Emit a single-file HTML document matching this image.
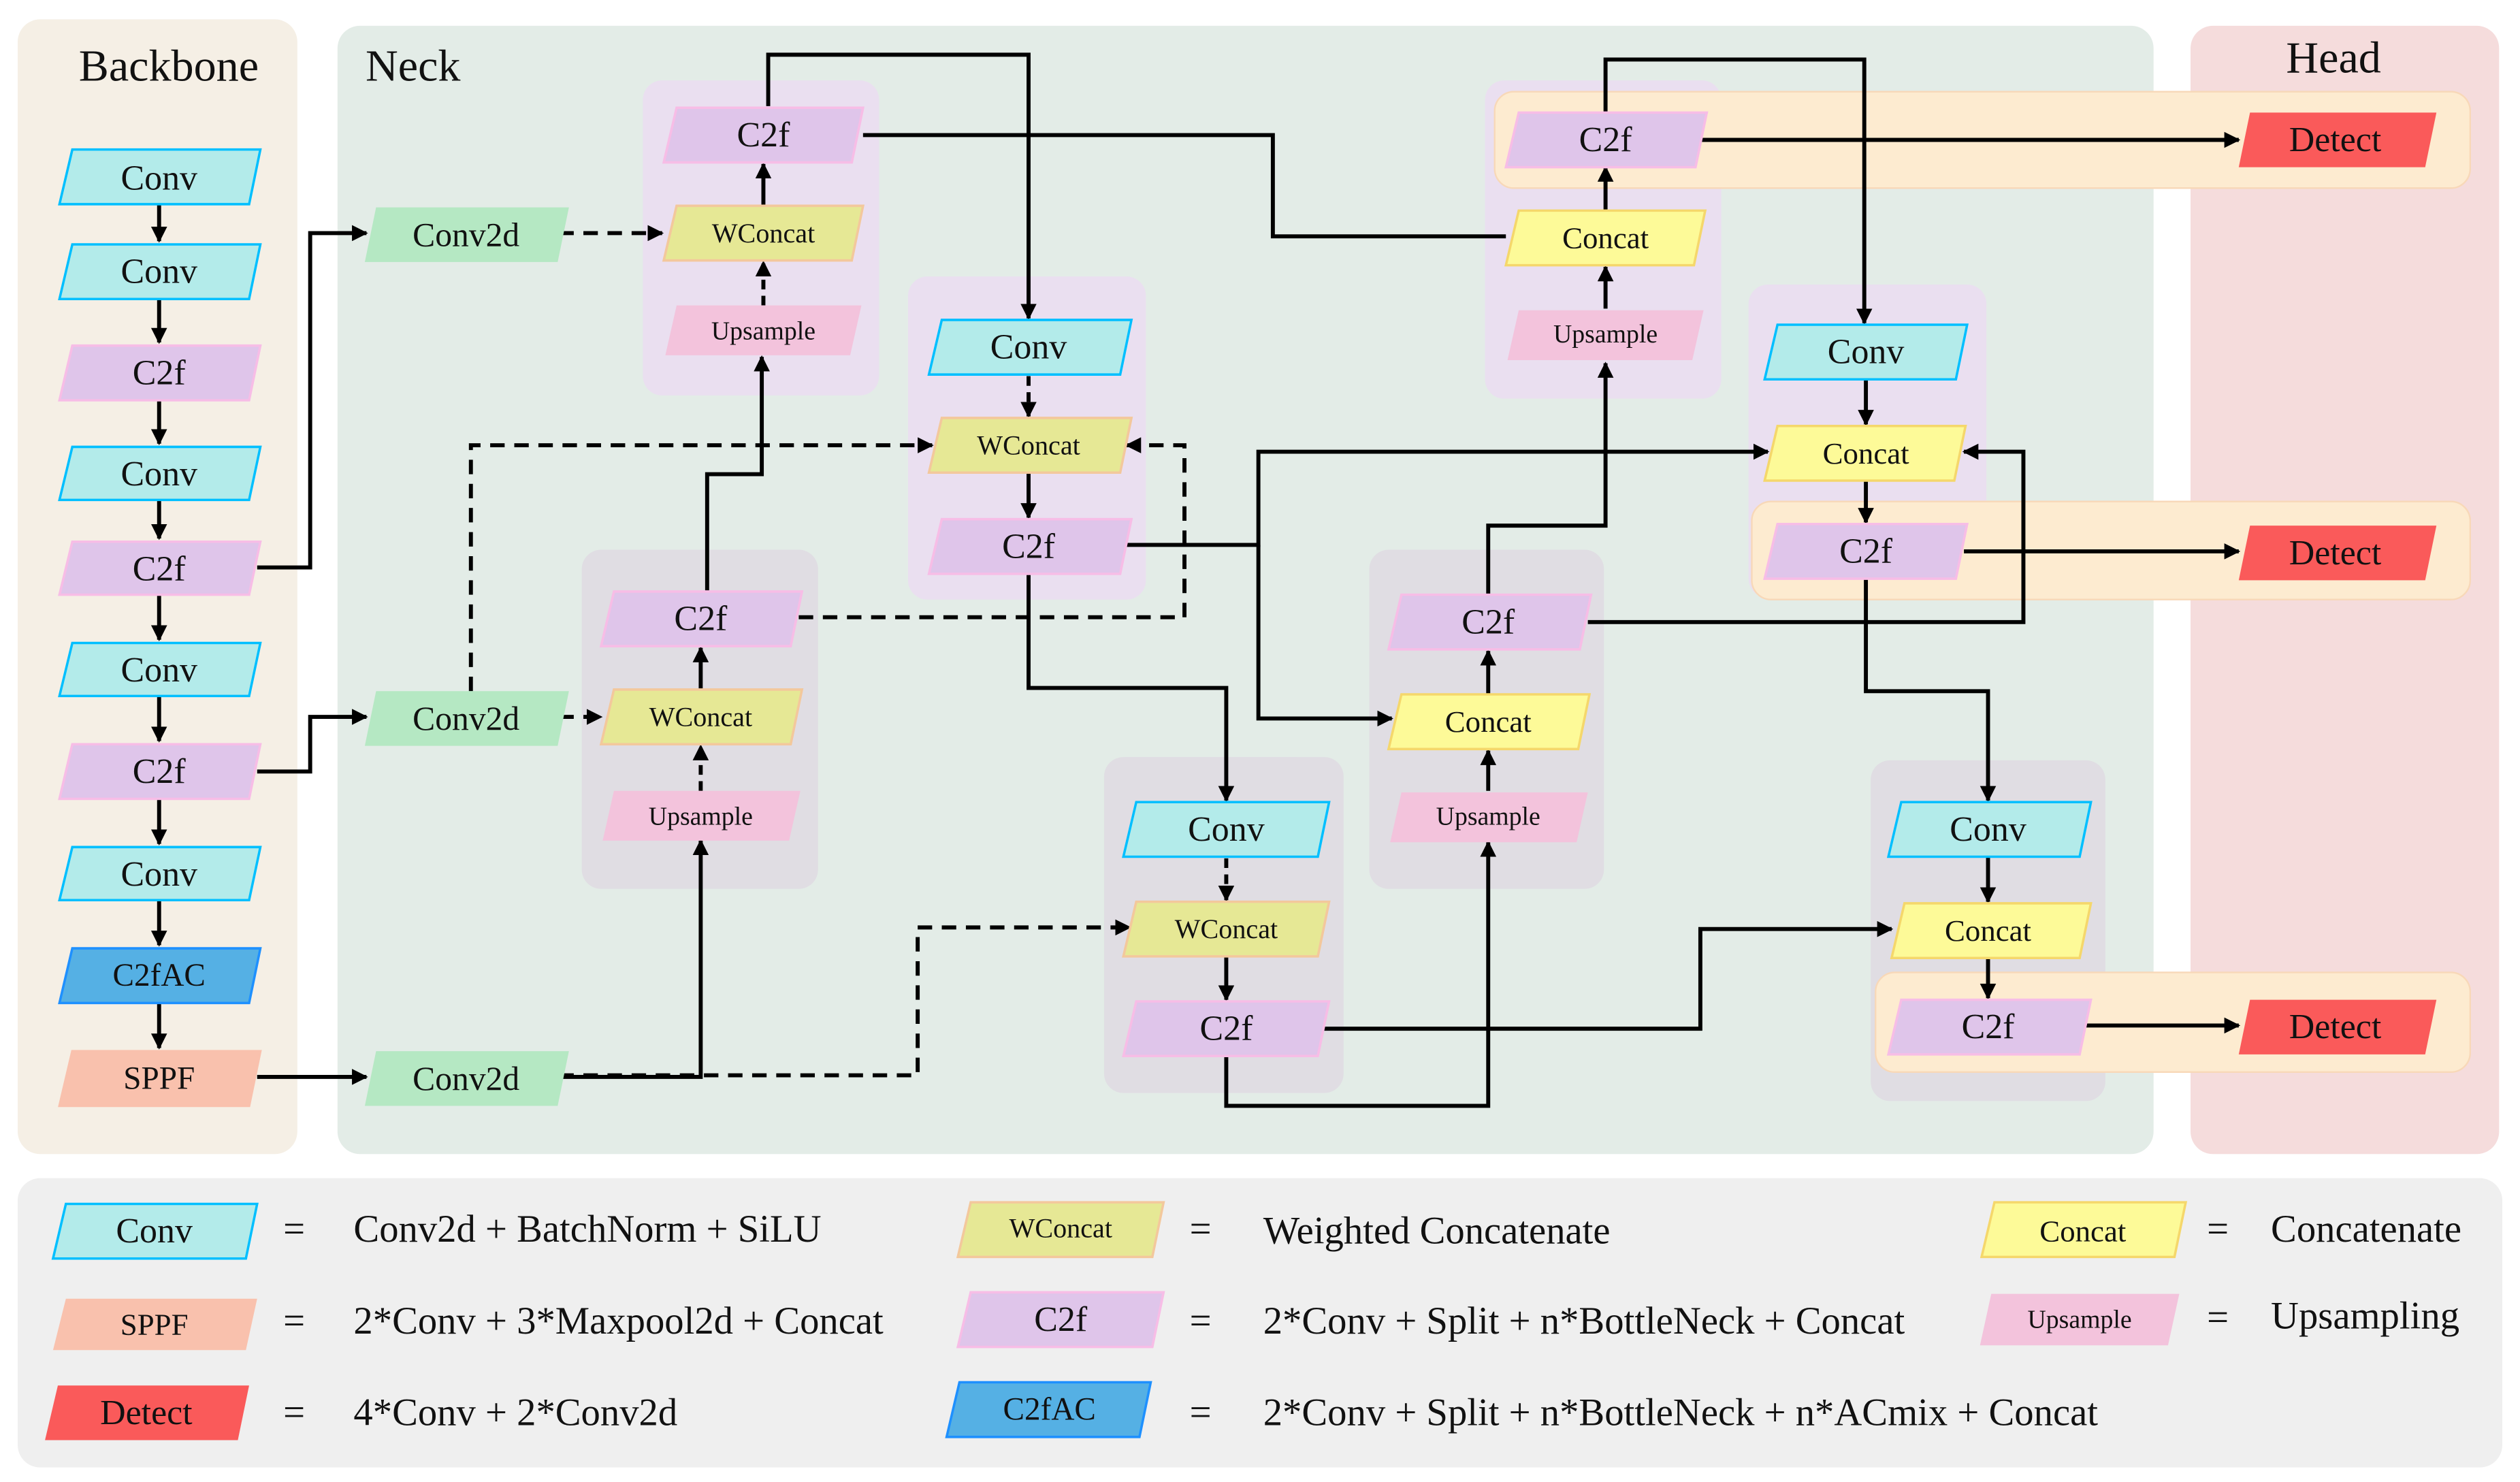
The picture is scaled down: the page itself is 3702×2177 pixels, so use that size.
<!DOCTYPE html>
<html><head><meta charset="utf-8"><style>
html,body{margin:0;padding:0;background:#fff;}
svg{display:block}
svg text{font-family:"Liberation Serif","DejaVu Serif",serif !important;fill:#111;text-anchor:middle;dominant-baseline:central}
</style></head><body>
<svg width="3702" height="2177" viewBox="0 0 1568 922" xmlns="http://www.w3.org/2000/svg" font-family="Liberation Serif, serif">
<defs>
<marker id="a" viewBox="0 0 10 10" refX="9" refY="5" markerWidth="10" markerHeight="10" markerUnits="userSpaceOnUse" orient="auto"><path d="M0,0L10,5L0,10z" fill="#000"/></marker>
</defs>
<rect x="11" y="12" width="174" height="706" rx="14" fill="#f5efe5"/>
<rect x="210" y="16" width="1130" height="702" rx="14" fill="#e3ece7"/>
<rect x="1363" y="16" width="192" height="702" rx="14" fill="#f5dcdc"/>
<rect x="11" y="733" width="1546" height="180" rx="14" fill="#efefef"/>
<text x="105" y="41" font-size="28">Backbone</text>
<text x="257" y="41" font-size="28">Neck</text>
<text x="1452" y="36" font-size="28">Head</text>
<g>
<rect x="400" y="50" width="147" height="196" rx="12" fill="#eadff0"/>
<rect x="565" y="172" width="148" height="201" rx="12" fill="#eadff0"/>
<rect x="362" y="342" width="147" height="211" rx="12" fill="#e0dde3"/>
<rect x="687" y="471" width="149" height="209" rx="12" fill="#e0dde3"/>
<rect x="924" y="50" width="147" height="198" rx="12" fill="#eadff0"/>
<rect x="852" y="342" width="146" height="211" rx="12" fill="#e0dde3"/>
<rect x="1088" y="177" width="148" height="195" rx="12" fill="#eadff0"/>
<rect x="1164" y="473" width="146" height="212" rx="12" fill="#e0dde3"/>
<rect x="930" y="57" width="607" height="60" rx="12" fill="#fdebd0" stroke="#f8d8b8"/>
<rect x="1090" y="312" width="447" height="61" rx="12" fill="#fdebd0" stroke="#f8d8b8"/>
<rect x="1167" y="605" width="370" height="62" rx="12" fill="#fdebd0" stroke="#f8d8b8"/>
</g>
<g fill="none" stroke="#000" stroke-width="2.5">
<path d="M99,127V150" marker-end="url(#a)"/>
<path d="M99,186V213" marker-end="url(#a)"/>
<path d="M99,249V276" marker-end="url(#a)"/>
<path d="M99,311V335" marker-end="url(#a)"/>
<path d="M99,370V398" marker-end="url(#a)"/>
<path d="M99,433V461" marker-end="url(#a)"/>
<path d="M99,497V525" marker-end="url(#a)"/>
<path d="M99,560V588" marker-end="url(#a)"/>
<path d="M99,624V652" marker-end="url(#a)"/>
<path d="M160,353H193V145H228" marker-end="url(#a)"/>
<path d="M160,480H193V446H228" marker-end="url(#a)"/>
<path d="M160,670H228" marker-end="url(#a)"/>
<path d="M348,145H412" stroke-dasharray="9,6" marker-end="url(#a)"/>
<path d="M348,446H374" stroke-dasharray="9,6" marker-end="url(#a)"/>
<path d="M293,430V277H580" stroke-dasharray="9,6" marker-end="url(#a)"/>
<path d="M497,384H737V277H701" stroke-dasharray="9,6" marker-end="url(#a)"/>
<path d="M348,669H571V577H703" stroke-dasharray="9,6" marker-end="url(#a)"/>
<path d="M475,190V163" stroke-dasharray="6,4" marker-end="url(#a)"/>
<path d="M436,492V464" stroke-dasharray="6,4" marker-end="url(#a)"/>
<path d="M640,234V259" stroke-dasharray="6,4" marker-end="url(#a)"/>
<path d="M763,534V560" stroke-dasharray="6,4" marker-end="url(#a)"/>
<path d="M475,128V102" marker-end="url(#a)"/>
<path d="M436,429V403" marker-end="url(#a)"/>
<path d="M640,294V322" marker-end="url(#a)"/>
<path d="M763,595V622" marker-end="url(#a)"/>
<path d="M999,192V166" marker-end="url(#a)"/>
<path d="M999,131V104" marker-end="url(#a)"/>
<path d="M926,492V467" marker-end="url(#a)"/>
<path d="M926,432V405" marker-end="url(#a)"/>
<path d="M1161,236V264" marker-end="url(#a)"/>
<path d="M1161,299V325" marker-end="url(#a)"/>
<path d="M1237,533V561" marker-end="url(#a)"/>
<path d="M1237,596V621" marker-end="url(#a)"/>
<path d="M478,66V34H640V198" marker-end="url(#a)"/>
<path d="M537,84H792V147H937"/>
<path d="M440,368V295H474V222" marker-end="url(#a)"/>
<path d="M348,670H436V523" marker-end="url(#a)"/>
<path d="M700,339H783V281H1100" marker-end="url(#a)"/>
<path d="M783,339V447H866" marker-end="url(#a)"/>
<path d="M640,357V428H763V498" marker-end="url(#a)"/>
<path d="M822,640H1058V578H1177" marker-end="url(#a)"/>
<path d="M763,657V688H926V524" marker-end="url(#a)"/>
<path d="M926,370V327H999V226" marker-end="url(#a)"/>
<path d="M988,387H1259V281H1222" marker-end="url(#a)"/>
<path d="M999,70V37H1160V201" marker-end="url(#a)"/>
<path d="M1058,87H1393" marker-end="url(#a)"/>
<path d="M1222,343H1393" marker-end="url(#a)"/>
<path d="M1161,360V430H1237V498" marker-end="url(#a)"/>
<path d="M1298,638H1393" marker-end="url(#a)"/>
</g>
<g>
<polygon points="45,93 162,93 155,127 37,127" fill="#b3ebea" stroke="#00bfff" stroke-width="1.5"/><text x="99" y="111" font-size="22">Conv</text>
<polygon points="45,152 162,152 155,186 37,186" fill="#b3ebea" stroke="#00bfff" stroke-width="1.5"/><text x="99" y="169" font-size="22">Conv</text>
<polygon points="45,215 162,215 155,249 37,249" fill="#dfc5ea" stroke="#f7bde6" stroke-width="1.5"/><text x="99" y="232" font-size="22">C2f</text>
<polygon points="45,278 162,278 155,311 37,311" fill="#b3ebea" stroke="#00bfff" stroke-width="1.5"/><text x="99" y="295" font-size="22">Conv</text>
<polygon points="45,337 162,337 155,370 37,370" fill="#dfc5ea" stroke="#f7bde6" stroke-width="1.5"/><text x="99" y="354" font-size="22">C2f</text>
<polygon points="45,400 162,400 155,433 37,433" fill="#b3ebea" stroke="#00bfff" stroke-width="1.5"/><text x="99" y="417" font-size="22">Conv</text>
<polygon points="45,463 162,463 155,497 37,497" fill="#dfc5ea" stroke="#f7bde6" stroke-width="1.5"/><text x="99" y="480" font-size="22">C2f</text>
<polygon points="45,527 162,527 155,560 37,560" fill="#b3ebea" stroke="#00bfff" stroke-width="1.5"/><text x="99" y="544" font-size="22">Conv</text>
<polygon points="45,590 162,590 155,624 37,624" fill="#55b0e4" stroke="#1e90ff" stroke-width="1.5"/><text x="99" y="607" font-size="20">C2fAC</text>
<polygon points="45,654 162,654 155,688 37,688" fill="#f9c1ad" stroke="#f9c1ad" stroke-width="1.5"/><text x="99" y="671" font-size="20">SPPF</text>
<polygon points="234,129 354,129 347,163 227,163" fill="#b5e8c3"/><text x="290" y="146" font-size="21">Conv2d</text>
<polygon points="234,430 354,430 347,464 227,464" fill="#b5e8c3"/><text x="290" y="447" font-size="21">Conv2d</text>
<polygon points="234,654 354,654 347,688 227,688" fill="#b5e8c3"/><text x="290" y="671" font-size="21">Conv2d</text>
<polygon points="421,67 537,67 530,101 413,101" fill="#dfc5ea" stroke="#f7bde6" stroke-width="1.5"/><text x="475" y="84" font-size="22">C2f</text>
<polygon points="421,128 537,128 530,162 413,162" fill="#e6e895" stroke="#f3c89c" stroke-width="1.5"/><text x="475" y="145" font-size="17">WConcat</text>
<polygon points="421,190 536,190 529,221 414,221" fill="#f3c3dc"/><text x="475" y="206" font-size="16">Upsample</text>
<polygon points="586,199 704,199 697,233 578,233" fill="#b3ebea" stroke="#00bfff" stroke-width="1.5"/><text x="640" y="216" font-size="22">Conv</text>
<polygon points="586,260 704,260 697,294 578,294" fill="#e6e895" stroke="#f3c89c" stroke-width="1.5"/><text x="640" y="277" font-size="17">WConcat</text>
<polygon points="586,323 704,323 697,357 578,357" fill="#dfc5ea" stroke="#f7bde6" stroke-width="1.5"/><text x="640" y="340" font-size="22">C2f</text>
<polygon points="382,368 499,368 492,402 374,402" fill="#dfc5ea" stroke="#f7bde6" stroke-width="1.5"/><text x="436" y="385" font-size="22">C2f</text>
<polygon points="382,429 499,429 492,463 374,463" fill="#e6e895" stroke="#f3c89c" stroke-width="1.5"/><text x="436" y="446" font-size="17">WConcat</text>
<polygon points="382,492 498,492 491,523 375,523" fill="#f3c3dc"/><text x="436" y="508" font-size="16">Upsample</text>
<polygon points="707,499 827,499 820,533 699,533" fill="#b3ebea" stroke="#00bfff" stroke-width="1.5"/><text x="763" y="516" font-size="22">Conv</text>
<polygon points="707,561 827,561 820,595 699,595" fill="#e6e895" stroke="#f3c89c" stroke-width="1.5"/><text x="763" y="578" font-size="17">WConcat</text>
<polygon points="707,623 827,623 820,657 699,657" fill="#dfc5ea" stroke="#f7bde6" stroke-width="1.5"/><text x="763" y="640" font-size="22">C2f</text>
<polygon points="945,70 1062,70 1055,104 937,104" fill="#dfc5ea" stroke="#f7bde6" stroke-width="1.5"/><text x="999" y="87" font-size="22">C2f</text>
<polygon points="945,131 1061,131 1054,165 937,165" fill="#fdfa98" stroke="#f5d76b" stroke-width="1.5"/><text x="999" y="148" font-size="19">Concat</text>
<polygon points="945,193 1060,193 1053,224 938,224" fill="#f3c3dc"/><text x="999" y="208" font-size="16">Upsample</text>
<polygon points="872,370 990,370 983,404 864,404" fill="#dfc5ea" stroke="#f7bde6" stroke-width="1.5"/><text x="926" y="387" font-size="22">C2f</text>
<polygon points="872,432 989,432 982,466 864,466" fill="#fdfa98" stroke="#f5d76b" stroke-width="1.5"/><text x="926" y="449" font-size="19">Concat</text>
<polygon points="872,493 988,493 981,524 865,524" fill="#f3c3dc"/><text x="926" y="508" font-size="16">Upsample</text>
<polygon points="1106,202 1224,202 1217,236 1098,236" fill="#b3ebea" stroke="#00bfff" stroke-width="1.5"/><text x="1161" y="219" font-size="22">Conv</text>
<polygon points="1106,265 1223,265 1216,299 1098,299" fill="#fdfa98" stroke="#f5d76b" stroke-width="1.5"/><text x="1161" y="282" font-size="19">Concat</text>
<polygon points="1106,326 1224,326 1217,360 1098,360" fill="#dfc5ea" stroke="#f7bde6" stroke-width="1.5"/><text x="1161" y="343" font-size="22">C2f</text>
<polygon points="1183,499 1301,499 1294,533 1175,533" fill="#b3ebea" stroke="#00bfff" stroke-width="1.5"/><text x="1237" y="516" font-size="22">Conv</text>
<polygon points="1185,562 1301,562 1294,596 1177,596" fill="#fdfa98" stroke="#f5d76b" stroke-width="1.5"/><text x="1237" y="579" font-size="19">Concat</text>
<polygon points="1183,622 1301,622 1294,656 1175,656" fill="#dfc5ea" stroke="#f7bde6" stroke-width="1.5"/><text x="1237" y="639" font-size="22">C2f</text>
<polygon points="1400,70 1516,70 1509,104 1393,104" fill="#fa5a5a"/><text x="1453" y="87" font-size="22">Detect</text>
<polygon points="1400,327 1516,327 1509,361 1393,361" fill="#fa5a5a"/><text x="1453" y="344" font-size="22">Detect</text>
<polygon points="1400,622 1516,622 1509,656 1393,656" fill="#fa5a5a"/><text x="1453" y="639" font-size="22">Detect</text>
<polygon points="41,749 160,749 153,783 33,783" fill="#b3ebea" stroke="#00bfff" stroke-width="1.5"/><text x="96" y="766" font-size="22">Conv</text>
<polygon points="41,808 160,808 153,840 33,840" fill="#f9c1ad"/><text x="96" y="824" font-size="19">SPPF</text>
<polygon points="36,862 155,862 148,896 28,896" fill="#fa5a5a"/><text x="91" y="879" font-size="22">Detect</text>
<polygon points="604,748 724,748 717,782 596,782" fill="#e6e895" stroke="#f3c89c" stroke-width="1.5"/><text x="660" y="764" font-size="17">WConcat</text>
<polygon points="604,804 724,804 717,838 596,838" fill="#dfc5ea" stroke="#f7bde6" stroke-width="1.5"/><text x="660" y="821" font-size="22">C2f</text>
<polygon points="597,860 716,860 709,894 589,894" fill="#55b0e4" stroke="#1e90ff" stroke-width="1.5"/><text x="653" y="877" font-size="20">C2fAC</text>
<polygon points="1241,748 1360,748 1353,782 1233,782" fill="#fdfa98" stroke="#f5d76b" stroke-width="1.5"/><text x="1296" y="766" font-size="19">Concat</text>
<polygon points="1239,805 1356,805 1349,837 1232,837" fill="#f3c3dc"/><text x="1294" y="821" font-size="16">Upsample</text>
<text x="183" y="765" font-size="24">=</text><text x="183" y="822" font-size="24">=</text><text x="183" y="879" font-size="24">=</text>
<text x="747" y="765" font-size="24">=</text><text x="747" y="822" font-size="24">=</text><text x="747" y="879" font-size="24">=</text>
<text x="1380" y="765" font-size="24">=</text><text x="1380" y="820" font-size="24">=</text>
<text x="220" y="765" font-size="24" style="text-anchor:start">Conv2d + BatchNorm + SiLU</text>
<text x="220" y="822" font-size="24" style="text-anchor:start">2*Conv + 3*Maxpool2d + Concat</text>
<text x="220" y="879" font-size="24" style="text-anchor:start">4*Conv + 2*Conv2d</text>
<text x="786" y="766" font-size="24" style="text-anchor:start">Weighted Concatenate</text>
<text x="786" y="822" font-size="24" style="text-anchor:start">2*Conv + Split + n*BottleNeck + Concat</text>
<text x="786" y="879" font-size="24" style="text-anchor:start">2*Conv + Split + n*BottleNeck + n*ACmix + Concat</text>
<text x="1413" y="765" font-size="24" style="text-anchor:start">Concatenate</text>
<text x="1413" y="819" font-size="24" style="text-anchor:start">Upsampling</text>
</g>
</svg>
</body></html>
